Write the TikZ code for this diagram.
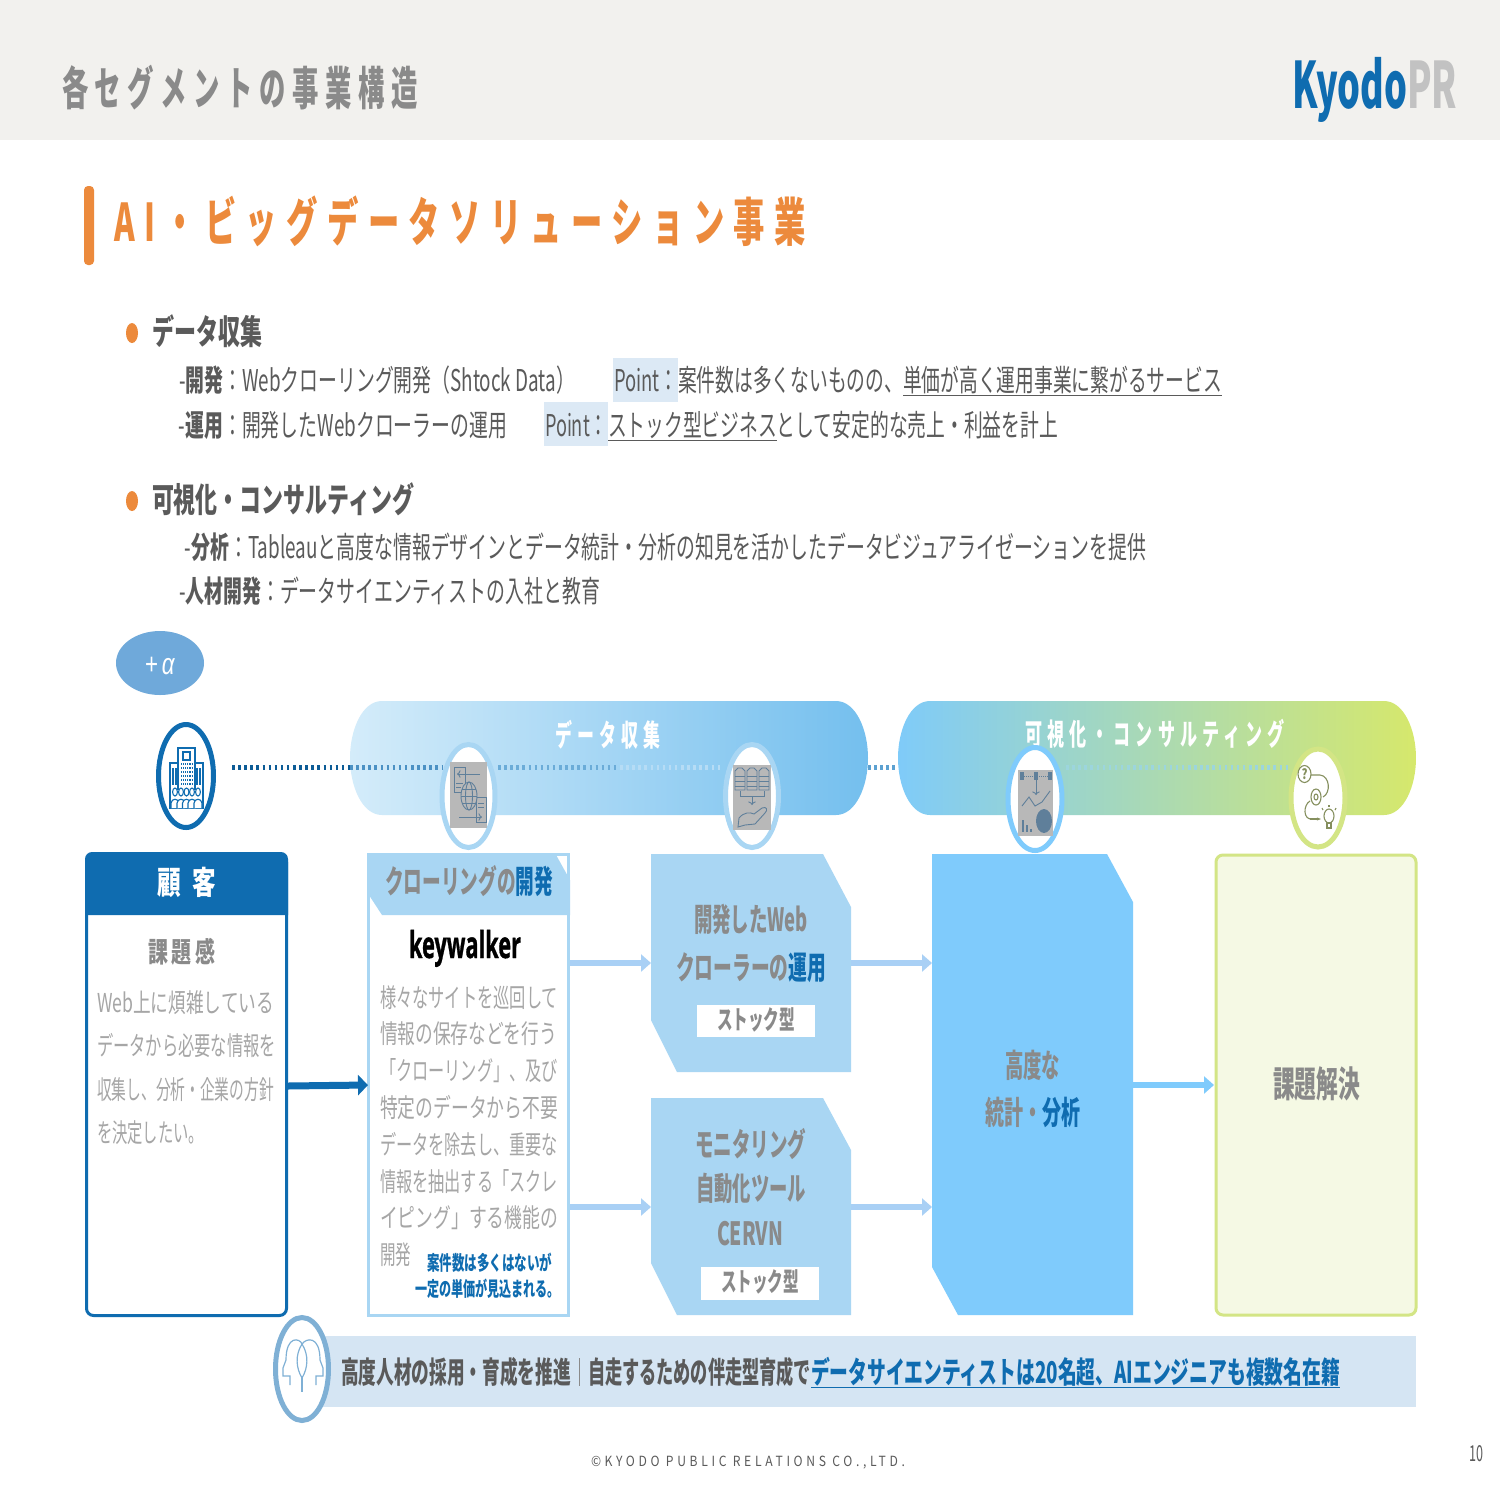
\documentclass[tikz,border=0pt]{standalone}
\usepackage{fontspec}
\usepackage{graphicx}
\usetikzlibrary{shapes.geometric,arrows.meta}
\setmainfont{Noto Sans CJK JP}
\newfontfamily\kwfont{Open Sans}[BoldFeatures={FakeBold=1.2}]
\newfontfamily\alfont{Liberation Sans}
\definecolor{gy}{HTML}{8A8A8A}
\definecolor{dg}{HTML}{5A5A5A}
\definecolor{lg}{HTML}{A6A6A6}
\definecolor{blu}{HTML}{0F6CB0}
\definecolor{lb}{HTML}{A9D6F3}
\definecolor{mb}{HTML}{7FCBFC}
\definecolor{org}{HTML}{EC8A3C}
\definecolor{yg}{HTML}{D3E585}
\definecolor{hl}{HTML}{DCE9F5}
\definecolor{ic}{HTML}{5F7F9A}
\definecolor{grb}{HTML}{B8B8B8}
\definecolor{band}{HTML}{D5E5F3}
\definecolor{arr}{HTML}{A9D0F5}
\definecolor{hdr}{HTML}{F2F1EE}
\definecolor{plb}{HTML}{6FA9DA}
\definecolor{ol}{HTML}{858F5E}
\definecolor{hdc}{HTML}{7FB0D5}
\definecolor{pa}{HTML}{7FCBF9}
\definecolor{pb}{HTML}{B0DCC8}
\definecolor{pc}{HTML}{D6E86C}
\definecolor{pl}{HTML}{D4ECFA}
\definecolor{pr}{HTML}{74BFEE}
\newsavebox\txbox
\newcommand\fitw[2]{\sbox\txbox{#2}\pgfmathsetmacro\xs{(#1)/\the\wd\txbox}\scalebox{\xs}[1]{\usebox\txbox}}
% name, x1, x2, y-centre, size, format, text
\newcommand\tx[7]{\node[txt] (#1) at ({(#2+#3)/2},{#4+0.37*#5}) {\fitw{#3-#2}{\fontsize{#5}{#5}\selectfont #6#7}};}
\newcommand\ls[1]{\addfontfeature{LetterSpace=#1}}
\newcommand\bl[1]{\textcolor{blu}{#1}}
\tikzset{
  txt/.style={anchor=base,inner sep=0pt,outer sep=0pt},
  ring/.style={ellipse,draw=#1,line width=5pt,fill=white,inner sep=0pt},
  flow/.style={draw=arr,line width=6pt,-{Triangle[length=10pt,width=17pt]}},
  icn/.style={draw=ic,line width=0.9pt,fill=none},
  dots/.style={line width=5pt,dash pattern=on 2.5pt off 3.6pt},
}
\begin{document}
\begin{tikzpicture}[x=1pt,y=-1pt]
\useasboundingbox (0,0) rectangle (1500,1500);
\fill[white] (0,0) rectangle (1500,1500);
\fill[hdr] (0,0) rectangle (1500,140);
\tx{title}{62}{418}{88}{46}{\color{gy}\bfseries\ls{25}}{各セグメントの事業構造}
\tx{kyodo}{1292}{1407}{85.3}{64}{\color{blu}\bfseries}{Kyodo}
\tx{prlogo}{1407}{1457}{85.3}{64}{\color{black!24}\bfseries}{PR}
\fill[org,rounded corners=4pt] (84,186) rectangle (94,265);
\tx{sect}{114}{806}{222}{52}{\color{org}\bfseries\ls{30}}{AI・ビッグデータソリューション事業}

\fill[org] (132,333) ellipse [x radius=6pt,y radius=10pt];
\tx{h1}{152}{262}{332}{34}{\color{dg}\bfseries}{データ収集}
\fill[hl] (613,358) rectangle (678,402);
\fill[hl] (544,402) rectangle (608,446);
\tx{l1a}{179}{575}{380}{30}{\color{dg}}{-\textbf{開発}：Webクローリング開発（Shtock Data）}
\tx{l1b}{614}{678}{380}{30}{\color{dg}}{Point：}
\tx{l1c}{678}{1222}{380}{30}{\color{dg}}{案件数は多くないものの、\underline{単価が高く運用事業に繋がるサービス}}
\tx{l2a}{179}{507}{425}{30}{\color{dg}}{-\textbf{運用}：開発したWebクローラーの運用}
\tx{l2b}{545}{608}{425}{30}{\color{dg}}{Point：}
\tx{l2c}{608}{1058}{425}{30}{\color{dg}}{\underline{ストック型ビジネス}として安定的な売上・利益を計上}

\fill[org] (132,501) ellipse [x radius=6pt,y radius=10pt];
\tx{h2}{152}{414}{500}{34}{\color{dg}\bfseries}{可視化・コンサルティング}
\tx{l3}{185}{1146}{547}{30}{\color{dg}}{-\textbf{分析}：Tableauと高度な情報デザインとデータ統計・分析の知見を活かしたデータビジュアライゼーションを提供}
\tx{l4}{179}{600}{591}{30}{\color{dg}}{-\textbf{人材開発}：データサイエンティストの入社と教育}

\node[ellipse,fill=plb,minimum width=88pt,minimum height=64pt,inner sep=0pt] (plus) at (160,663) {};
\tx{plust}{145}{175}{663}{30}{\color{white}\alfont}{+\,\textit{α}}

% pills
\path[left color=pl,right color=pr]
  (382,701) -- (836,701) .. controls (856,701) and (868,730) .. (868,758) .. controls (868,786) and (856,815) .. (836,815)
  -- (382,815) .. controls (362,815) and (350,786) .. (350,758) .. controls (350,730) and (362,701) .. (382,701) -- cycle;
\path[left color=pa,middle color=pb,right color=pc]
  (930,701) -- (1384,701) .. controls (1404,701) and (1416,730) .. (1416,758) .. controls (1416,786) and (1404,815) .. (1384,815)
  -- (930,815) .. controls (910,815) and (898,786) .. (898,758) .. controls (898,730) and (910,701) .. (930,701) -- cycle;
\tx{p1}{555}{660}{735}{30}{\color{white}\bfseries\ls{30}}{データ収集}
\tx{p2}{1025}{1285}{734}{30}{\color{white}\bfseries\ls{30}}{可視化・コンサルティング}

% dotted line, fading as it runs through the pills
\coordinate (d1) at (232,767);
\coordinate (d2) at (350,767);
\coordinate (d2b) at (442,767);
\coordinate (d3) at (498,767);
\coordinate (d4) at (620,767);
\coordinate (d5) at (722,767);
\coordinate (d6) at (868,767);
\coordinate (d7) at (898,767);
\coordinate (d9) at (1066,767);
\coordinate (d10) at (1290,767);
\draw[dots,draw=blu!85!black] (d1) -- (d2);
\draw[dots,draw=blu!75!white] (d2) -- (d2b);
\draw[dots,draw=blu!40!lb] (d3) -- (d4);
\draw[dots,draw=lb!85!white] (d4) -- (d5);
\draw[dots,draw=blu!50!lb] (d6) -- (d7);
\draw[dots,draw=mb!40!pb] (d9) -- (d10);

% rings
\node[ring=blu,minimum width=55pt,minimum height=103pt] (custc) at (186,776) {};
\node[ring=lb,minimum width=53pt,minimum height=103pt] (c1) at (468.5,796) {};
\node[ring=lb,minimum width=53pt,minimum height=103pt] (c2) at (752,796) {};
\node[ring=mb,minimum width=54pt,minimum height=103pt] (c3) at (1035,799) {};
\node[ring=yg,minimum width=54pt,minimum height=98pt] (c4) at (1318,798) {};

% customer box
\draw[blu,line width=3pt,fill=white,rounded corners=7pt] (86.5,855) rectangle (286.5,1315.5);
\fill[blu] (85,915) -- (85,860) [rounded corners=7pt] -- (85,852) -- (288,852) [sharp corners] -- (288,915) -- cycle;
\tx{cust}{157}{216}{883}{32}{\color{white}\bfseries}{顧\hspace{0.5em}客}
\tx{kad}{148}{216}{952}{28}{\color{gy}\bfseries}{課\hspace{0.2em}題\hspace{0.2em}感}
\tx{ca}{97}{274}{1003}{26}{\color{lg}}{Web上に煩雑している}
\tx{cb}{97}{276}{1046}{26}{\color{lg}}{データから必要な情報を}
\tx{cc}{97}{274}{1090}{26}{\color{lg}}{収集し、分析・企業の方針}
\tx{cd}{97}{204}{1133}{26}{\color{lg}}{を決定したい。}

% crawl box
\draw[lb,line width=3pt,fill=white] (368.5,854) rectangle (568.5,1315.5);
\fill[lb] (367,853) -- (555,853) -- (570,880) -- (570,915) -- (382,915) -- (367,892) -- cycle;
\tx{crh}{385}{553}{882}{32}{\color{gy}\bfseries}{クローリングの\bl{開発}}
\tx{kw}{409}{521}{944.3}{37}{\color{black}\kwfont\bfseries}{keywalker}
\tx{ra}{380}{558}{998}{26}{\color{lg}}{様々なサイトを巡回して}
\tx{rb}{380}{557}{1034}{26}{\color{lg}}{情報の保存などを行う}
\tx{rc}{380}{558}{1071}{26}{\color{lg}}{「クローリング」、及び}
\tx{rd}{380}{558}{1108}{26}{\color{lg}}{特定のデータから不要}
\tx{re}{380}{558}{1145}{26}{\color{lg}}{データを除去し、重要な}
\tx{rf}{380}{558}{1182}{26}{\color{lg}}{情報を抽出する「スクレ}
\tx{rg}{380}{558}{1218}{26}{\color{lg}}{イピング」する機能の}
\tx{rh}{380}{411}{1255}{26}{\color{lg}}{開発}
\tx{rk}{427}{552}{1263}{20}{\color{blu}\bfseries}{案件数は多くはないが}
\tx{rl}{415}{560}{1289}{20}{\color{blu}\bfseries}{一定の単価が見込まれる。}

% box 2
\fill[lb] (651,854) -- (823,854) -- (851,907) -- (851,1072) -- (677,1072) -- (651,1020) -- cycle;
\tx{ba}{694}{808}{920}{32}{\color{gy}\bfseries}{開発したWeb}
\tx{bb}{676}{826}{968}{32}{\color{gy}\bfseries}{クローラーの\bl{運用}}
\fill[white] (697,1005) rectangle (815,1037);
\tx{bc}{717}{795}{1020}{26}{\color{gy}\bfseries}{ストック型}
% box 3
\fill[lb] (651,1098) -- (823,1098) -- (851,1150) -- (851,1315) -- (677,1315) -- (651,1263) -- cycle;
\tx{da}{695}{806}{1145}{32}{\color{gy}\bfseries}{モニタリング}
\tx{db}{696}{806}{1189}{32}{\color{gy}\bfseries}{自動化ツール}
\tx{dc}{717}{783}{1234}{32}{\color{gy}\bfseries}{CERVN}
\fill[white] (701,1267) rectangle (819,1300);
\tx{dd}{721}{799}{1282}{26}{\color{gy}\bfseries}{ストック型}
% box 4
\fill[mb] (932,854) -- (1107,854) -- (1133,902) -- (1133,1315) -- (958,1315) -- (932,1267) -- cycle;
\tx{ea}{1005}{1060}{1066}{32}{\color{gy}\bfseries}{高度な}
\tx{eb}{985}{1080}{1113}{32}{\color{gy}\bfseries}{統計・\bl{分析}}
% box 5
\draw[yg,line width=3pt,fill=yg!22!white,rounded corners=7pt] (1216,855) rectangle (1416,1315);
\tx{fa}{1273}{1360}{1084}{36}{\color{gy}\bfseries}{課題解決}

% connectors
\coordinate (a1) at (570,963); \coordinate (a2) at (651,963);
\coordinate (a3) at (851,963); \coordinate (a4) at (932,963);
\coordinate (a5) at (570,1207); \coordinate (a6) at (651,1207);
\coordinate (a7) at (851,1207); \coordinate (a8) at (932,1207);
\coordinate (a9) at (1133,1085); \coordinate (a10) at (1214,1085);
\coordinate (a11) at (288,1086); \coordinate (a12) at (368,1085);
\draw[flow] (a1) -- (a2);
\draw[flow] (a3) -- (a4);
\draw[flow] (a5) -- (a6);
\draw[flow] (a7) -- (a8);
\draw[flow,draw=mb] (a9) -- (a10);
\draw[draw=blu,line width=7pt,-{Triangle[length=10pt,width=20pt]}] (a11) -- (a12);

% bottom band
\fill[band] (320,1336) rectangle (1416,1407);
\node[ring=hdc,minimum width=53pt,minimum height=103pt] (hd) at (302,1369) {};
\tx{ta}{341}{571}{1372}{30}{\color{dg}\bfseries}{高度人材の採用・育成を推進}
\fill[gy] (578.5,1358) rectangle (580,1386);
\tx{tb}{588}{811}{1372}{30}{\color{dg}\bfseries}{自走するための伴走型育成で}
\tx{tc}{811}{1340}{1372}{30}{\color{blu}\bfseries}{\underline{データサイエンティストは20名超、AIエンジニアも複数名在籍}}

% footer
\tx{foot}{591}{905}{1461}{14}{\color{dg}\ls{30}}{©KYODO PUBLIC RELATIONS CO.,LTD.}
\tx{page}{1469}{1483}{1453}{22}{\color{dg}}{10}

% icon: building
\begin{scope}[draw=blu,line width=1.1pt]
\draw (178,790) -- (178,748) -- (195,748) -- (195,790);
\draw (178,763) -- (170,763) -- (170,808) -- (203,808) -- (203,763) -- (195,763);
\draw (183,752) rectangle (190,760);
\foreach \yy in {764,768,772,776,780,784}{\draw[densely dotted] (181,\yy) -- (192,\yy);}
\foreach \xx in {173,176,197,200}{\draw (\xx,768) -- (\xx,785);}
\foreach \xx in {175,181,186.5,192,198}{\draw[fill=white] (\xx,792) ellipse [x radius=2.4pt,y radius=4pt];\draw[fill=white] (\xx-4,808) -- (\xx-4,803) .. controls (\xx-3,798) and (\xx+3,798) .. (\xx+4,803) -- (\xx+4,808);}
\end{scope}

% icon 1
\fill[grb] (450,762) rectangle (487,828);
\begin{scope}[icn]
\draw (454,767) rectangle (465,792);
\draw (476,797) rectangle (486,822);
\draw[fill=grb] (469,796) ellipse [x radius=8pt,y radius=14pt];
\draw (469,796) ellipse [x radius=3.5pt,y radius=14pt];
\draw (461,796) -- (477,796);\draw (462,789) -- (476,789);\draw (462,803) -- (476,803);
\draw[->] (480,774) -- (457,774);
\draw[->] (459,817) -- (482,817);
\draw (456,783) -- (463,783);\draw (456,787) -- (461,787);
\draw (478,803) -- (484,803);\draw (478,807) -- (484,807);
\end{scope}
% icon 2
\fill[grb] (733,765) rectangle (771,830);
\begin{scope}[icn]
\foreach \xx in {735,747,759}{\draw (\xx,790) -- (\xx,771) -- (\xx+3,768) -- (\xx+7,768) -- (\xx+10,771) -- (\xx+10,790) -- cycle;
 \draw (\xx,776) -- (\xx+10,776);\draw (\xx,781) -- (\xx+10,781);\draw (\xx,786) -- (\xx+10,786);}
\draw (740,791) -- (740,796) -- (764,796) -- (764,791);
\draw[->] (752,796) -- (752,805);
\draw (738,827) -- (739,818) .. controls (744,812) and (750,812) .. (754,814) -- (762,808) .. controls (767,806) and (768,810) .. (765,813) -- (755,824) -- (745,825) -- cycle;
\end{scope}
% icon 3
\fill[grb] (1018,770) rectangle (1053,836);
\begin{scope}[icn]
\fill[ic] (1020,772) rectangle (1024,780);
\fill[ic] (1034,772) rectangle (1038,780);
\fill[ic] (1048,772) rectangle (1052,780);
\draw[densely dotted] (1024,776) -- (1048,776);
\draw[->] (1036,780) -- (1036,795);
\draw (1022,806) -- (1029,797) -- (1035,806) -- (1042,802) -- (1050,791);
\fill[ic] (1022,832) rectangle (1024,820);
\fill[ic] (1026,832) rectangle (1028,825);
\fill[ic] (1030,832) rectangle (1032,829);
\fill[ic] (1044,821) ellipse [x radius=8pt,y radius=12pt];
\end{scope}
% icon 4
\begin{scope}[draw=ol,line width=1.1pt]
\draw (1304.5,774) ellipse [x radius=6.5pt,y radius=8.5pt];
\tx{qm}{1301.5}{1307.5}{774}{14}{\color{ol}\bfseries}{?}
\draw (1311,775) -- (1320,775) .. controls (1330,776) and (1331,793) .. (1323,797);
\draw (1316,797) ellipse [x radius=5pt,y radius=8pt];
\draw (1316,797) ellipse [x radius=2pt,y radius=3pt];
\draw (1310,801) .. controls (1303,805) and (1303,820) .. (1312,819);
\draw[-{Stealth[length=4pt]}] (1310,819) -- (1321,819);
\draw (1329,816) ellipse [x radius=5pt,y radius=7pt];
\draw (1327,823) rectangle (1331,828);
\draw (1329,805) -- (1329,807);\draw (1322,808) -- (1323,810);\draw (1336,808) -- (1335,810);
\end{scope}
% icon heads
\begin{scope}[draw=hdc,line width=1.2pt]
\draw (290,1385) -- (290,1376) -- (283,1376) -- (283,1368) -- (286,1360) .. controls (286,1335) and (300,1338) .. (302,1344) .. controls (306,1338) and (320,1335) .. (320,1360) -- (323,1368) -- (323,1376) -- (316,1376) -- (316,1385);
\draw (302,1344) .. controls (295,1355) and (296,1368) .. (302,1378) .. controls (308,1368) and (309,1355) .. (302,1344);
\draw (302,1378) -- (302,1392);
\end{scope}
\end{tikzpicture}
\end{document}
